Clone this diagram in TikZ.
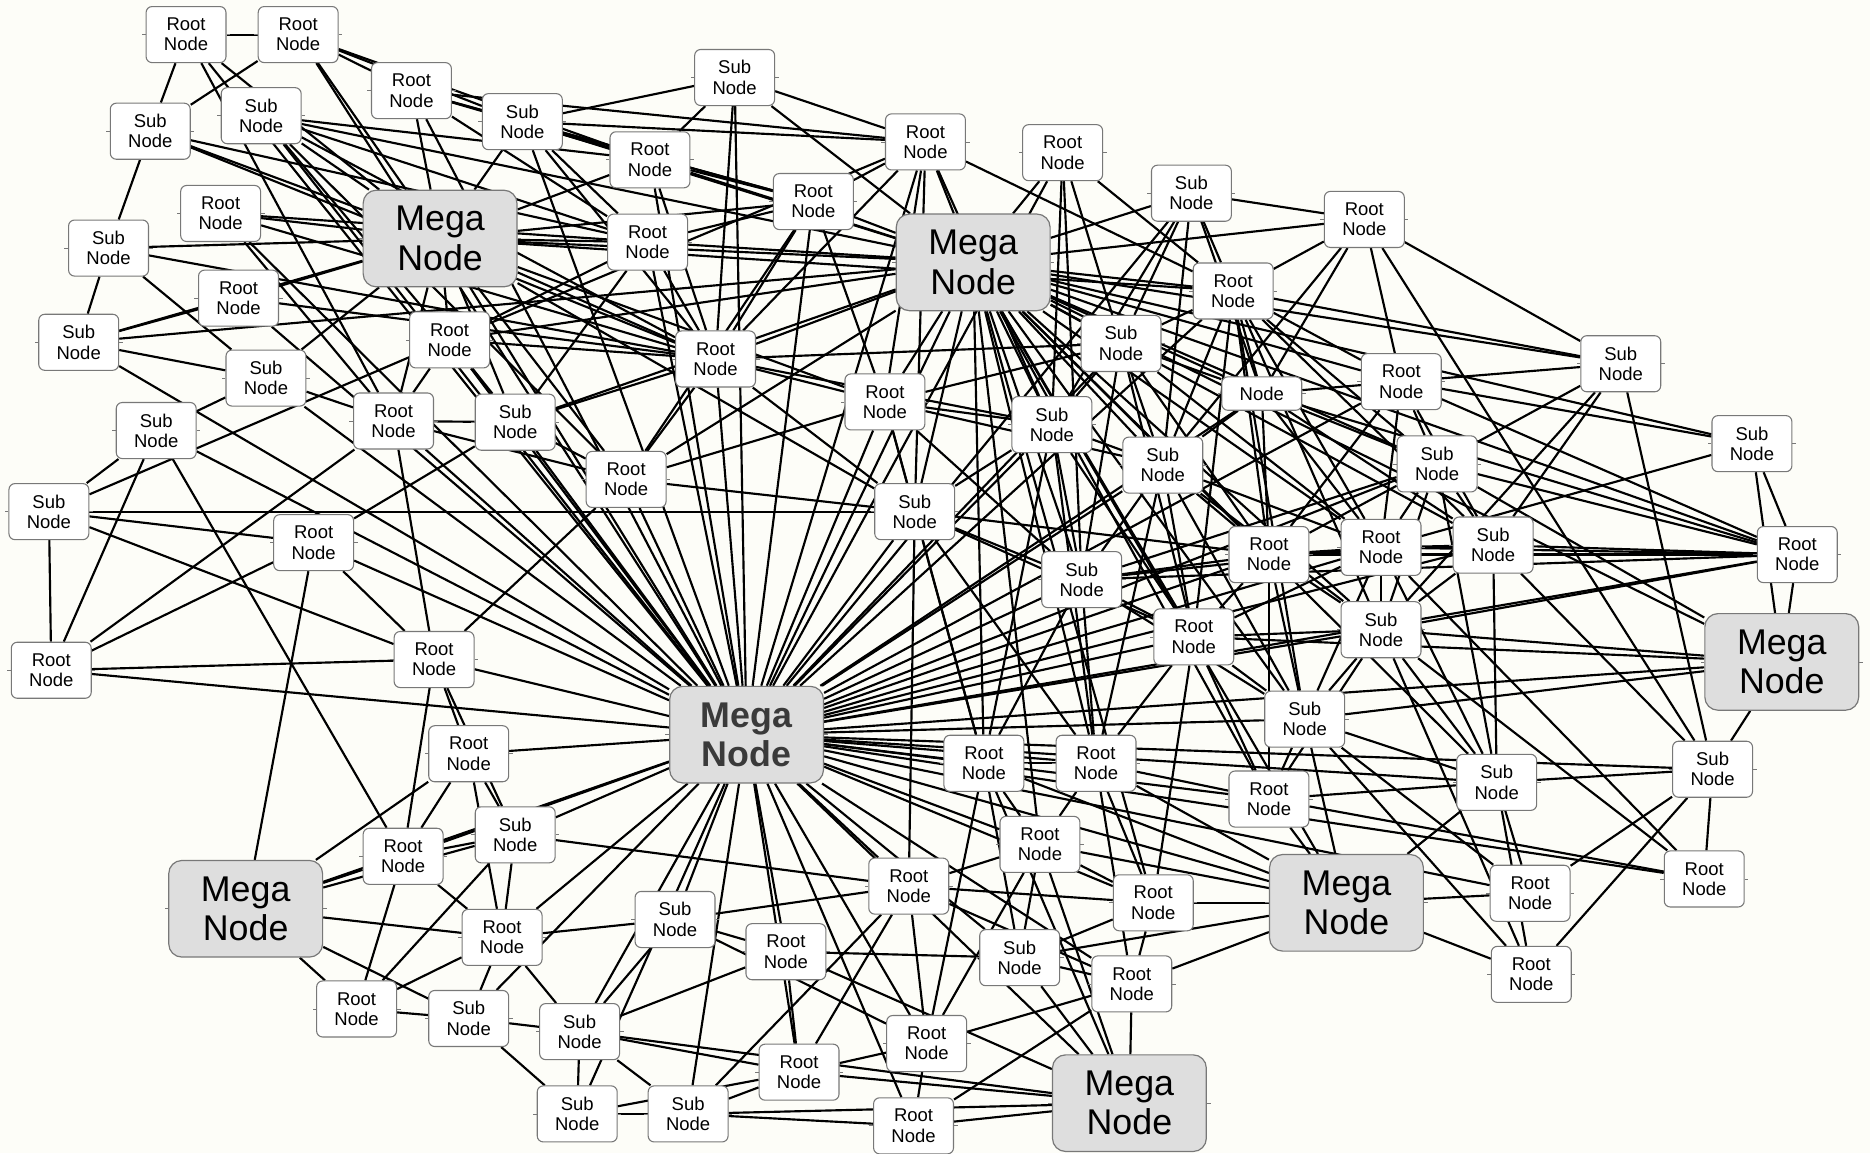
\documentclass[tikz,border=0pt]{standalone}
\usepackage{fontspec}
\setmainfont{Liberation Sans}
\definecolor{paper}{RGB}{253,253,248}
\definecolor{boxgray}{RGB}{120,120,120}
\definecolor{megafill}{RGB}{222,222,222}
\definecolor{megatext}{RGB}{58,58,58}
\pgfdeclarelayer{bg}
\pgfdeclarelayer{edges}
\pgfsetlayers{bg,edges,main}
\tikzset{
  box/.style={draw=boxgray, fill=white, rounded corners=5pt, line width=0.9pt,
    minimum width=67pt, minimum height=47pt, inner sep=0pt, align=center,
    font=\fontsize{15.5}{17}\selectfont},
  mega/.style={draw=boxgray, fill=megafill, rounded corners=11pt, line width=1pt,
    minimum width=129pt, minimum height=81pt, inner sep=0pt, align=center,
    font=\fontsize{30}{33}\selectfont},
  link/.style={line width=1.8pt, black},
  stubline/.style={line width=0.6pt, boxgray}
}
\begin{document}
\begin{tikzpicture}[x=1pt,y=-1pt]
\begin{pgfonlayer}{bg}
  \fill[paper] (0,0) rectangle (1568,967);
\end{pgfonlayer}
\useasboundingbox (0,0) rectangle (1568,967);

% nodes
\node[box] (a1) at (156,29) {Root\\Node};
\node[box] (a2) at (250,29) {Root\\Node};
\node[box] (a3) at (126,110) {Sub\\Node};
\node[box] (a4) at (219,97) {Sub\\Node};
\node[box] (a5) at (345,76) {Root\\Node};
\node[box] (a6) at (438,102) {Sub\\Node};
\node[box] (a7) at (616,65) {Sub\\Node};
\node[box] (a8) at (545,134) {Root\\Node};
\node[box] (a9) at (776,119) {Root\\Node};
\node[box] (a10) at (891,128) {Root\\Node};
\node[box] (a11) at (185,179) {Root\\Node};
\node[mega] (M1) at (369,200) {Mega\\Node};
\node[box] (a12) at (91,208) {Sub\\Node};
\node[box] (a13) at (543,203) {Root\\Node};
\node[box] (a14) at (682,169) {Root\\Node};
\node[mega] (M2) at (816,220) {Mega\\Node};
\node[box] (a15) at (999,162) {Sub\\Node};
\node[box] (a16) at (1144,184) {Root\\Node};
\node[box] (a17) at (200,250) {Root\\Node};
\node[box] (a18) at (66,287) {Sub\\Node};
\node[box] (a19) at (377,285) {Root\\Node};
\node[box] (a20) at (600,301) {Root\\Node};
\node[box] (a21) at (223,317) {Sub\\Node};
\node[box] (a22) at (1034,244) {Root\\Node};
\node[box] (a23) at (940,288) {Sub\\Node};
\node[box] (a24) at (1359,305) {Sub\\Node};
\node[box] (a25) at (1175,320) {Root\\Node};
\node[box,minimum height=28pt] (a26) at (1058,330) {Node};
\node[box] (a27) at (742,337) {Root\\Node};
\node[box] (a28) at (131,361) {Sub\\Node};
\node[box] (a29) at (330,353) {Root\\Node};
\node[box] (a30) at (432,354) {Sub\\Node};
\node[box] (a31) at (882,356) {Sub\\Node};
\node[box] (a32) at (1469,372) {Sub\\Node};
\node[box] (a33) at (525,402) {Root\\Node};
\node[box] (a34) at (975,390) {Sub\\Node};
\node[box] (a35) at (1205,389) {Sub\\Node};
\node[box] (a36) at (41,429) {Sub\\Node};
\node[box] (a37) at (767,429) {Sub\\Node};
\node[box] (a38) at (263,455) {Root\\Node};
\node[box] (a39) at (1064,465) {Root\\Node};
\node[box] (a40) at (1158,459) {Root\\Node};
\node[box] (a41) at (1252,457) {Sub\\Node};
\node[box] (a42) at (1507,465) {Root\\Node};
\node[box] (a43) at (907,486) {Sub\\Node};
\node[box] (a44) at (1001,534) {Root\\Node};
\node[box] (a45) at (1158,528) {Sub\\Node};
\node[mega] (M3) at (1494,555) {Mega\\Node};
\node[box] (a46) at (43,562) {Root\\Node};
\node[box] (a47) at (364,553) {Root\\Node};
\node[mega,font=\fontsize{30}{33}\selectfont\bfseries,text=megatext] (M4) at (626,616) {Mega\\Node};
\node[box] (a48) at (1094,603) {Sub\\Node};
\node[box] (a49) at (393,632) {Root\\Node};
\node[box] (a50) at (825,640) {Root\\Node};
\node[box] (a51) at (919,640) {Root\\Node};
\node[box] (a52) at (1436,645) {Sub\\Node};
\node[box] (a53) at (1255,656) {Sub\\Node};
\node[box] (a54) at (1064,670) {Root\\Node};
\node[box] (a55) at (432,700) {Sub\\Node};
\node[box] (a56) at (338,718) {Root\\Node};
\node[box] (a57) at (872,708) {Root\\Node};
\node[mega] (M5) at (206,762) {Mega\\Node};
\node[box] (a58) at (762,743) {Root\\Node};
\node[mega] (M6) at (1129,757) {Mega\\Node};
\node[box] (a59) at (1429,737) {Root\\Node};
\node[box] (a60) at (1283,749) {Root\\Node};
\node[box] (a61) at (967,757) {Root\\Node};
\node[box] (a62) at (566,771) {Sub\\Node};
\node[box] (a63) at (421,786) {Root\\Node};
\node[box] (a64) at (659,798) {Root\\Node};
\node[box] (a65) at (855,803) {Sub\\Node};
\node[box] (a66) at (949,825) {Root\\Node};
\node[box] (a67) at (1284,817) {Root\\Node};
\node[box] (a68) at (299,846) {Root\\Node};
\node[box] (a69) at (393,854) {Sub\\Node};
\node[box] (a70) at (486,865) {Sub\\Node};
\node[box] (a71) at (777,875) {Root\\Node};
\node[box] (a72) at (670,899) {Root\\Node};
\node[box] (a73) at (484,934) {Sub\\Node};
\node[box] (a74) at (577,934) {Sub\\Node};
\node[box] (a75) at (766,944) {Root\\Node};
\node[mega] (M7) at (947,925) {Mega\\Node};

% side ticks on every box
\foreach \i in {1,...,75} {
  \draw[stubline] (a\i.west) -- ++(-3pt,0) (a\i.east) -- ++(3pt,0);
}
\foreach \i in {1,...,7} {
  \draw[stubline] (M\i.west) -- ++(-3pt,0) (M\i.east) -- ++(3pt,0);
}

% links, drawn beneath the boxes
\begin{pgfonlayer}{edges}
% central hub
\foreach \b in {a1,a2,a4,a5,a6,M1,a11,a17,a18,a19,a21,a29,a30,a33,a13,a8,a7,a20,a14,a27,a9,M2,a10,a37,a23,a22,a31,a15,a34,a26,a25,a35,a43,a39,a40,a41,a44,a45,a42,M3,a48,a50,a51,a54,a53,a52,a57,a58,a61,M6,a60,a65,a66,a59,a64,a62,a71,a72,a74,a75,M7,a70,a73,a69,a63,a55,a56,M5,a49,a47,a38,a28,a46}
  \draw[link] (M4) -- (\b);
% upper hub
\foreach \b in {a6,a7,a8,a9,a10,a13,a14,a20,a27,a31,a23,a22,a15,a16,a25,a26,a34,a35,a24,a32,a42,a40,a39,a41,a43,a37,a44,a45,a48,a50,a51,a57,a54,M6,M3,a33,a30,a19,M1,a18,a53,a61,a4}
  \draw[link] (M2) -- (\b);
% upper-left hub
\foreach \b in {a1,a2,a4,a5,a6,a3,a11,a12,a17,a18,a19,a20,a21,a29,a13,a8,a14,a33,a37,a27,a22,a30}
  \draw[link] (M1) -- (\b);
% remaining links
\foreach \a/\b in {
  a1/a2,a1/a3,a1/a29,a2/a3,a2/a5,a2/a6,a2/a8,a3/a12,a3/a13,a3/a20,
  a4/a8,a4/a13,a4/a20,a4/a33,a4/a19,a5/a6,a5/a8,a5/a9,a5/a14,a5/a13,
  a6/a7,a6/a8,a6/a9,a6/a14,a6/a13,a6/a20,a7/a8,a7/a9,a7/a20,a8/a14,a8/a20,
  a9/a14,a9/a20,a9/a22,a9/a27,a9/a31,a9/a37,a9/a19,a10/a22,a10/a23,a10/a31,a10/a43,
  a11/a13,a11/a20,a11/a29,a12/a18,a12/a20,a12/a21,a17/a18,a17/a20,a18/a21,
  a13/a20,a13/a14,a14/a20,a14/a27,a14/a33,
  a36/a28,a36/a19,a36/a37,a36/a38,a36/a47,a36/a46,a46/a28,a46/a29,a46/a38,a46/a47,
  a28/a56,a28/a21,a38/a47,a38/M5,a38/a30,a29/a19,a29/a30,a29/a21,a29/a33,
  a30/a19,a30/a33,a30/a20,a30/a13,a19/a20,a19/a13,a33/a20,a33/a27,a33/a37,a33/a47,
  a20/a27,a20/a31,a20/a23,a20/a37,a27/a31,a27/a37,a27/a34,a27/a23,a27/a43,a27/a50,
  a37/a31,a37/a43,a37/a44,a37/a39,a37/a51,a37/a50,a37/a58,
  a22/a15,a22/a16,a22/a23,a22/a26,a22/a25,a22/a24,a22/a35,a22/a40,a22/a39,a22/a41,
  a22/a34,a22/a44,a22/a45,a22/a48,
  a15/a16,a15/a23,a15/a26,a15/a31,a15/a34,
  a23/a31,a23/a34,a23/a26,a23/a43,a23/a39,a23/a40,a23/a44,
  a26/a16,a26/a25,a26/a35,a26/a39,a26/a40,a26/a41,a26/a34,a26/a42,
  a25/a16,a25/a24,a25/a32,a25/a42,a25/a35,a25/a40,a25/a41,a25/a39,
  a24/a16,a24/a41,a24/a45,a24/a52,a24/a35,a16/a34,a16/a52,
  a31/a34,a31/a43,a31/a51,a31/a50,a31/a44,
  a34/a39,a34/a40,a34/a43,a34/a44,a34/a45,a34/a48,a34/a51,
  a35/a42,a35/M3,a35/a40,a35/a41,a35/a39,a35/a45,a35/a53,a35/a43,
  a43/a39,a43/a40,a43/a44,a43/a51,a43/a50,a43/a48,a43/a42,
  a39/a40,a39/a41,a39/a42,a39/a44,a39/a45,a39/a48,a39/a54,
  a40/a41,a40/a42,a40/a32,a40/a45,a40/a48,a40/a53,a40/a59,a40/a44,
  a41/a42,a41/a45,a41/a53,a41/a52,a32/a42,a32/M3,a42/M3,a42/a45,
  a45/a44,a45/a48,a45/a53,a45/a59,a45/a67,a45/a54,a45/M3,
  a44/M3,a44/a61,a44/a48,a44/a54,a44/a51,
  a48/M3,a48/a60,a48/a67,a48/a54,a48/a53,a48/M6,
  a53/a54,a53/M6,a53/a60,a53/a67,a53/a52,a54/a59,a54/M6,a54/a51,
  a52/M3,a52/a59,a52/a60,a52/a67,
  M6/a60,M6/a67,M6/a65,M6/a57,M6/a61,M6/a66,M6/a51,M6/a50,
  M5/a49,M5/a56,M5/a55,M5/a63,M5/a68,M5/a69,
  a47/a56,a47/a49,a47/a29,a47/a55,a49/a55,a49/a56,a49/a63,
  a55/a56,a55/a63,a55/a68,a55/a58,a56/a68,a56/a63,
  a63/a62,a63/a68,a63/a69,a63/a70,a62/a58,a62/a64,a62/a71,a62/a70,
  a68/a69,a69/a70,a69/a73,a70/a73,a70/M7,a70/a64,a70/a72,a70/a74,
  a73/a74,a73/a72,a74/a75,a74/M7,a74/a58,a74/a72,a75/M7,a75/a71,a75/a66,
  a72/M7,a72/a64,a72/a71,a72/a58,a71/a58,a71/a50,a71/a57,a71/a66,
  a64/a65,a64/M7,a58/a57,a58/a61,a58/a66,
  a65/a50,a65/a66,a65/M7,a65/a57,a65/a61,
  a57/a50,a57/a51,a57/a61,a57/M7,a61/a51,a61/a66,a66/M7,a66/a51,M7/a50,a50/a51}
  \draw[link] (\a) -- (\b);
\end{pgfonlayer}
\end{tikzpicture}
\end{document}
